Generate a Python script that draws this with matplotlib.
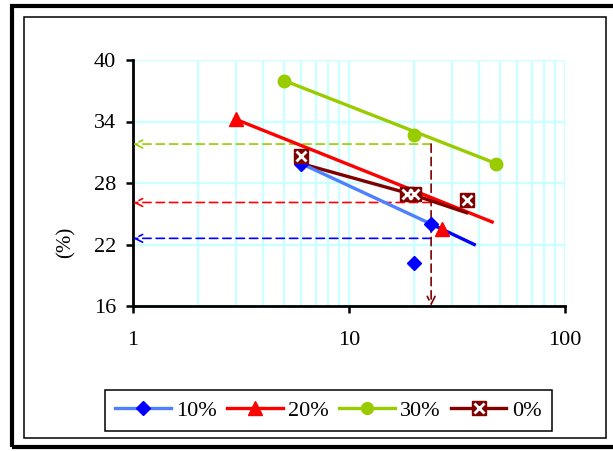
import numpy as np
import matplotlib
matplotlib.use('Agg')
import matplotlib.pyplot as plt
from matplotlib.patches import Rectangle
from matplotlib.lines import Line2D
from matplotlib.legend_handler import HandlerTuple

plt.rcParams['font.family'] = 'Liberation Serif'

# measured points for each series
x10 = [6, 24, 20]
y10 = [29.9, 24.0, 20.2]
x20 = [3, 27]
y20 = [34.2, 23.5]
x30 = [5, 20, 48]
y30 = [38.0, 32.7, 29.9]
x0 = [6, 18.5, 20, 35]
y0 = [30.6, 26.9, 26.9, 26.3]

# connecting / trend lines
line10_x, line10_y = [6, 24], [29.9, 24.0]
ext10_x, ext10_y = [24, 38], [24.0, 22.0]
line20_x, line20_y = [3, 46], [34.2, 24.2]
line30_x, line30_y = [5, 48], [38.0, 29.9]
line0_x, line0_y = [6, 19.5, 35], [29.9, 26.9, 25.1]

# read-off guides
guide_x = 24
guide_y = {'30%': 31.8, '20%': 26.1, '10%': 22.6}

c_lblue, c_blue = '#4D7FFF', '#0000FF'
c_red, c_green, c_dred = '#FF0000', '#99CC00', '#800000'
grid_c = '#CCFFFF'

fig = plt.figure(figsize=(6.13, 4.51), dpi=100)
W, H = 613, 451

def px_rect(x0_, y0_, x1_, y1_, lw):
    fig.patches.append(Rectangle((x0_ / W, 1 - y1_ / H), (x1_ - x0_) / W, (y1_ - y0_) / H,
                                 transform=fig.transFigure, fill=False,
                                 edgecolor='black', lw=lw))

px_rect(12, 6, 618, 447, 3.0)
px_rect(24, 17, 606, 438, 1.1)

ax = fig.add_axes([133 / W, 1 - 306 / H, (565 - 133) / W, (306 - 60) / H])
ax.set_xscale('log')
ax.set_xlim(1, 100)
ax.set_ylim(16, 40)
ax.set_yticks([16, 22, 28, 34, 40])
ax.set_xticks([1, 10, 100])
ax.set_xticklabels(['1', '10', '100'])
ax.tick_params(axis='x', which='minor', length=0)
ax.tick_params(axis='both', which='major', labelsize=16, width=1.8, length=5, color='black')
ax.tick_params(axis='x', which='major', pad=13)
ax.tick_params(axis='y', which='major', pad=7)

ax.grid(True, which='both', axis='x', color=grid_c, lw=1.7, zorder=0)
ax.grid(True, which='major', axis='y', color=grid_c, lw=1.7, zorder=0)
ax.set_axisbelow(True)
for s in ['top', 'right']:
    ax.spines[s].set_visible(False)
for s in ['left', 'bottom']:
    ax.spines[s].set_linewidth(2.0)

lw = 2.4
# guides
dash = dict(arrowstyle='->', color=None, lw=1.2, linestyle=(0, (5, 3)), shrinkA=0, shrinkB=0,
            mutation_scale=14)
for key, col in [('30%', c_green), ('20%', c_red), ('10%', c_blue)]:
    d = dict(dash)
    d['color'] = col
    ax.annotate('', xy=(1, guide_y[key]), xytext=(guide_x, guide_y[key]), arrowprops=d)
d = dict(dash)
d['color'] = c_dred
ax.annotate('', xy=(guide_x, 16), xytext=(guide_x, guide_y['30%']), arrowprops=d)

# lines
ax.plot(line30_x, line30_y, color=c_green, lw=lw, zorder=3)
ax.plot(line20_x, line20_y, color=c_red, lw=lw, zorder=3)
ax.plot(line0_x, line0_y, color=c_dred, lw=lw, zorder=3)
ax.plot(line10_x, line10_y, color=c_lblue, lw=lw, zorder=3)
ax.plot(ext10_x, ext10_y, color=c_blue, lw=lw, zorder=3)

# markers
ax.plot(x10, y10, ls='none', marker='D', ms=7.5, color=c_blue, zorder=4)
ax.plot(x20, y20, ls='none', marker='^', ms=10.5, color=c_red, zorder=4)
ax.plot(x30, y30, ls='none', marker='o', ms=9, color=c_green, zorder=4)
ax.plot(x0, y0, ls='none', marker='s', ms=10, color=c_dred, zorder=4)
ax.plot(x0, y0, ls='none', marker='x', ms=6.5, mew=2.0, color='white', zorder=5)

ax.set_ylabel('(%)', fontsize=15)
ax.yaxis.set_label_coords(-0.134, 0.26)

h10 = Line2D([], [], color=c_lblue, lw=lw, marker='D', ms=7, mfc=c_blue, mec=c_blue)
h20 = Line2D([], [], color=c_red, lw=lw, marker='^', ms=10)
h30 = Line2D([], [], color=c_green, lw=lw, marker='o', ms=8.5)
h0a = Line2D([], [], color=c_dred, lw=lw, marker='s', ms=10)
h0b = Line2D([], [], ls='none', marker='x', ms=6.5, mew=2.0, color='white')
leg = fig.legend([h10, h20, h30, (h0a, h0b)], ['10%', '20%', '30%', '0%'],
                 handler_map={tuple: HandlerTuple(ndivide=1)},
                 loc='center', bbox_to_anchor=(328.5 / W, 1 - 410.5 / H), ncol=4,
                 fontsize=16, frameon=True, fancybox=False, edgecolor='black',
                 handlelength=2.5, handletextpad=0.25, columnspacing=0.45,
                 borderpad=0.45, borderaxespad=0)
leg.get_frame().set_linewidth(1.1)
leg.get_frame().set_alpha(1)

fig.savefig('out.png', dpi=100)
